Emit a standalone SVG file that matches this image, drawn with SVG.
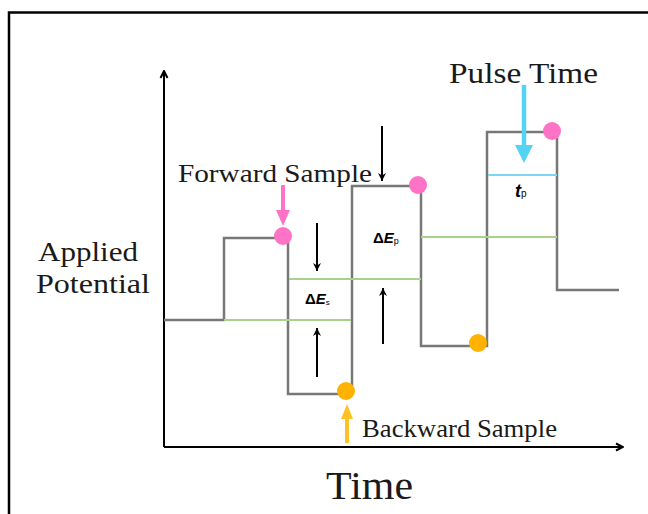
<svg xmlns="http://www.w3.org/2000/svg" width="648" height="514" viewBox="0 0 648 514">
  <style>
    .lbl { font-family: "Liberation Serif", "DejaVu Serif", serif; fill: #1a1a1a; }
    .sym { font-family: "Liberation Sans", Arial, sans-serif; font-weight: bold; fill: #000; }
    .wave { fill: none; stroke: #777; stroke-width: 2.5; stroke-linejoin: miter; }
    .lvl { stroke: #A9D18E; stroke-width: 2.2; }
    .ax { stroke: #000; stroke-width: 2; fill: none; }
    .thin { stroke: #000; stroke-width: 2; }
  </style>
  <defs>
    <marker id="axhead" viewBox="0 0 10 10" refX="9" refY="5" markerWidth="10" markerHeight="10" orient="auto" markerUnits="userSpaceOnUse">
      <path d="M2,1.5 L9,5 L2,8.5" fill="none" stroke="#000" stroke-width="2"/>
    </marker>
    <marker id="blk" viewBox="0 0 10 10" refX="10" refY="5" markerWidth="10" markerHeight="8" orient="auto" markerUnits="userSpaceOnUse">
      <path d="M0,0 L10,5 L0,10 L3,5 Z" fill="#000"/>
    </marker>
  </defs>

  <rect x="9" y="12.5" width="700" height="600" fill="#fff" stroke="#000" stroke-width="2.5"/>

  <!-- axes -->
  <g id="axes">
    <line class="ax" x1="164" y1="447" x2="164" y2="71" marker-end="url(#axhead)"/>
    <line class="ax" x1="164" y1="447" x2="623" y2="447" marker-end="url(#axhead)"/>
  </g>

  <!-- staircase potential waveform and step levels -->
  <g id="waveform">
    <path class="wave" d="M164,320 H224 V238 H288 V394 H352 V186 H421 V346 H487 V132 H557 V290 H619"/>
    <line class="lvl" x1="224" y1="320" x2="351" y2="320"/>
    <line class="lvl" x1="289" y1="279" x2="421" y2="279"/>
    <line class="lvl" x1="421" y1="237" x2="557" y2="237"/>
    <line x1="488" y1="175" x2="557" y2="175" stroke="#7ED6F2" stroke-width="2"/>
  </g>

  <!-- sample points -->
  <g id="samples">
    <circle cx="283" cy="236" r="9" fill="#FF73C6"/>
    <circle cx="418" cy="185" r="9" fill="#FF73C6"/>
    <circle cx="552" cy="131" r="9" fill="#FF73C6"/>
    <circle cx="346" cy="391" r="9" fill="#FFB300"/>
    <circle cx="478" cy="343" r="9" fill="#FFB300"/>
  </g>

  <!-- pointers and step-size arrows -->
  <g id="connectors">
    <path d="M283,185 V212" stroke="#FF73C6" stroke-width="4"/>
    <path d="M276,210 L290,210 L283,226 Z" fill="#FF73C6"/>
    <path d="M524,85 V148" stroke="#55D3F3" stroke-width="4.5"/>
    <path d="M515,145 L533,145 L524,163 Z" fill="#55D3F3"/>
    <path d="M347,443 V416" stroke="#FFC125" stroke-width="4"/>
    <path d="M341,419 L353,419 L347,404 Z" fill="#FFC125"/>
    <line class="thin" x1="317" y1="223" x2="317" y2="271" marker-end="url(#blk)"/>
    <line class="thin" x1="317" y1="377" x2="317" y2="328" marker-end="url(#blk)"/>
    <line class="thin" x1="383" y1="344" x2="383" y2="288" marker-end="url(#blk)"/>
    <line class="thin" x1="382" y1="126" x2="382" y2="181" marker-end="url(#blk)"/>
  </g>

  <!-- labels -->
  <g id="labels">
    <text class="lbl" x="178" y="182" font-size="26" textLength="194" lengthAdjust="spacingAndGlyphs">Forward Sample</text>
    <text class="lbl" x="449" y="83" font-size="30" textLength="149" lengthAdjust="spacingAndGlyphs">Pulse Time</text>
    <text class="lbl" x="362" y="437" font-size="25" textLength="195" lengthAdjust="spacingAndGlyphs">Backward Sample</text>
    <text class="lbl" x="326" y="499" font-size="39" textLength="87" lengthAdjust="spacingAndGlyphs">Time</text>
    <text class="lbl" x="38" y="261" font-size="27" textLength="100" lengthAdjust="spacingAndGlyphs">Applied</text>
    <text class="lbl" x="36" y="293" font-size="27" textLength="114" lengthAdjust="spacingAndGlyphs">Potential</text>
    <text class="sym" x="373" y="243" font-size="15">Δ<tspan font-style="italic">E</tspan><tspan font-size="9" font-weight="normal" dy="1">p</tspan></text>
    <text class="sym" x="305" y="304" font-size="15">Δ<tspan font-style="italic">E</tspan><tspan font-size="8" font-weight="normal" dy="1">s</tspan></text>
    <text class="sym" x="515" y="197" font-size="18" font-style="italic">t<tspan font-size="10" font-style="normal" font-weight="normal">p</tspan></text>
  </g>
</svg>
